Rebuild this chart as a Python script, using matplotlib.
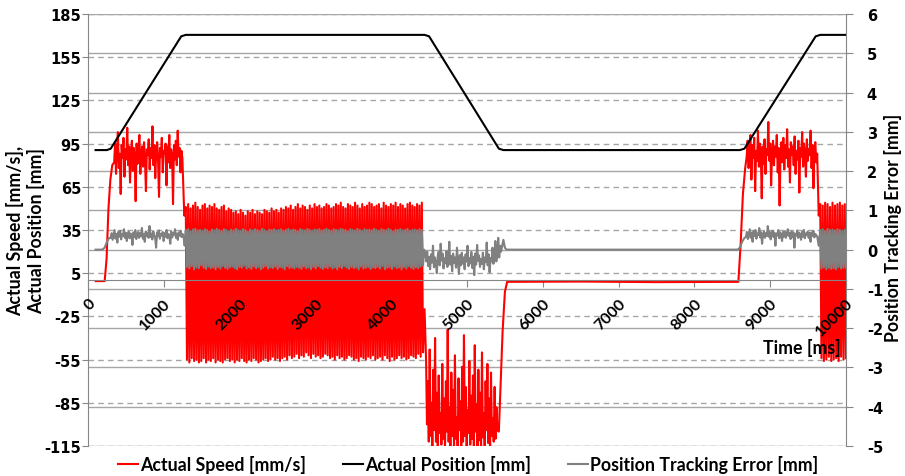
import numpy as np
import matplotlib
matplotlib.use("Agg")
import matplotlib.pyplot as plt
from matplotlib.lines import Line2D

# ---------------- data ----------------
# actual position [mm], left axis
pos_t = [100, 250, 300, 1230, 1290, 4440, 4500, 5420, 5480, 8600, 8660, 9600, 9660, 10000]
pos_v = [90.5, 90.5, 91.5, 169.5, 170.5, 170.5, 169.5, 91.5, 90.5, 90.5, 91.5, 169.5, 170.5, 170.5]

# actual speed [mm/s], left axis
spd_start_t = [100, 220, 245, 270, 295, 320]
spd_start_v = [-0.5, -0.5, 15, 50, 70, 80]
spd_acc1 = [82, 95, 74, 90, 103, 78, 88, 60, 94, 85, 99, 72, 91, 84, 106, 80, 93, 68, 89, 97,
            76, 92, 86, 55, 95, 81, 90, 101, 74, 88, 93, 79, 96, 84, 62, 91, 87, 98, 77, 92,
            85, 107, 80, 94, 71, 89, 96, 83, 58, 92, 86, 99, 75, 90, 88, 95, 66, 93, 82, 101,
            78, 91, 87, 53, 94, 84, 97, 80, 104, 86, 92, 75, 90, 85]
# peaks of the dither while the axis holds 170 mm
spd_hold_hi = [51, 53, 50, 52, 54, 51, 49, 52, 53, 50, 52, 51, 53, 50, 49, 51, 52, 48, 50, 49,
               47, 48, 46, 49, 47, 45, 48, 47, 49, 46, 48, 47, 46, 49, 48, 47, 50, 48, 49, 47,
               50, 49, 51, 50, 52, 49, 51, 53, 50, 52, 51, 49, 52, 50, 53, 51, 52, 50, 51, 53,
               52, 50, 51, 53, 52, 54, 51, 50, 53, 52, 51, 54, 52, 50, 53, 51, 52, 54, 53, 51,
               52, 53, 50, 54, 52, 51, 53, 52, 54, 51, 53, 52, 50, 53, 54, 52, 51, 53, 52, 54]
spd_hold_lo = [-55, -57, -54, -56, -55, -57, -56, -54, -57, -55, -56, -54, -57, -55, -56, -57,
               -55, -54, -56, -55, -57, -55, -56, -54, -56, -57, -55, -56, -54, -55, -57, -56,
               -55, -54, -56, -55, -53, -55, -54, -56, -54, -53, -55, -52, -54, -53, -51, -54,
               -52, -53, -50, -52, -54, -51, -53, -52, -54, -53, -51, -52, -54, -53, -55, -52,
               -54, -53, -55, -54, -52, -53, -55, -54, -56, -53, -54, -55, -53, -54, -52, -55,
               -54, -53, -55, -52, -54, -56, -53, -55, -54, -52, -54, -53, -55, -54, -52, -53,
               -54, -51, -53, -50]
spd_dec = [-55, -100, -70, -112, -48, -108, -85, -116, -62, -104, -40, -112, -78, -118, -66,
           -106, -92, -114, -58, -110, -82, -117, -70, -105, -34, -112, -88, -118, -64, -108,
           -76, -115, -52, -110, -95, -117, -68, -104, -84, -116, -60, -112, -38, -108, -74,
           -118, -90, -106, -56, -114, -80, -110, -66, -117, -45, -105, -86, -115, -62, -111,
           -78, -118, -50, -109, -92, -116, -70, -104, -58, -113, -82, -117, -64, -108, -96,
           -112, -74, -110, -88, -104]
spd_mid_t = [5420, 5445, 5470, 5500, 5530, 6500, 7500, 8580, 8610, 8640, 8670]
spd_mid_v = [-105, -70, -35, -8, -1, -0.8, -1.2, -1, 25, 60, 78]
spd_acc2 = [86, 97, 78, 92, 101, 70, 94, 85, 99, 62, 90, 83, 104, 79, 95, 88, 57, 93, 81, 98,
            74, 91, 87, 110, 83, 95, 66, 89, 97, 80, 93, 86, 101, 75, 92, 52, 88, 96, 82, 99,
            77, 94, 85, 105, 79, 91, 68, 96, 87, 93, 80, 100, 74, 90, 84, 97, 61, 92, 86, 103,
            79, 95, 88, 72, 98, 83, 91, 87, 104, 78, 94, 64, 89, 96, 82, 88]
spd_end_hi = [53, 52, 54, 53, 51, 54, 52, 53, 54, 52, 53]
spd_end_lo = [-54, -56, -55, -53, -56, -55, -54, -56, -53, -55, -54]

# position tracking error [mm], right axis
err_start_t = [100, 190, 220, 250, 280]
err_start_v = [0, 0, 0.05, 0.2, 0.3]
err_acc1 = [0.3, 0.42, 0.25, 0.38, 0.5, 0.28, 0.4, 0.18, 0.45, 0.33, 0.48, 0.26, 0.4, 0.35,
            0.52, 0.3, 0.43, 0.22, 0.38, 0.46, 0.29, 0.41, 0.36, 0.12, 0.44, 0.32, 0.5, 0.27,
            0.39, 0.45, 0.3, 0.42, 0.34, 0.55, 0.28, 0.4, 0.2, 0.46, 0.35, 0.43, 0.3, 0.6, 0.32,
            0.41, 0.26, 0.47, 0.37, 0.3, 0.05, 0.44, 0.34, 0.49, 0.28, 0.4, 0.36, 0.45, 0.22,
            0.42, 0.33, 0.5, 0.29, 0.4, 0.35, 0.15, 0.46, 0.31, 0.43, 0.38, 0.52, 0.3, 0.41,
            0.25, 0.44, 0.36, 0.48, 0.32, 0.4, 0.35]
err_hold_hi = [0.5, 0.52, 0.47, 0.51, 0.53, 0.49, 0.5, 0.48, 0.52, 0.5, 0.46, 0.51, 0.49, 0.53,
               0.5, 0.48, 0.52, 0.5, 0.47, 0.51, 0.49, 0.53, 0.5, 0.48, 0.52, 0.5, 0.46, 0.51,
               0.49, 0.52, 0.5, 0.48, 0.53, 0.5, 0.47, 0.51, 0.5, 0.52, 0.49, 0.5, 0.52, 0.48,
               0.5, 0.53, 0.49, 0.51, 0.5, 0.47, 0.52, 0.5, 0.49, 0.53, 0.5, 0.48, 0.51, 0.5,
               0.52, 0.49, 0.5, 0.53, 0.5, 0.48, 0.52, 0.5, 0.49, 0.53, 0.51, 0.5, 0.47, 0.52,
               0.5, 0.49, 0.53, 0.5, 0.48, 0.52, 0.5, 0.51, 0.49, 0.53, 0.5, 0.48, 0.52, 0.5,
               0.49, 0.53, 0.5, 0.47, 0.51, 0.5, 0.52, 0.49, 0.5, 0.53, 0.48, 0.5, 0.51, 0.49,
               0.52, 0.5]
err_hold_lo = [-0.44, -0.48, -0.42, -0.5, -0.45, -0.47, -0.4, -0.46, -0.49, -0.43, -0.47, -0.45,
               -0.5, -0.44, -0.48, -0.42, -0.46, -0.49, -0.45, -0.43, -0.47, -0.5, -0.44, -0.46,
               -0.41, -0.48, -0.45, -0.49, -0.43, -0.47, -0.44, -0.5, -0.46, -0.42, -0.48, -0.45,
               -0.47, -0.43, -0.49, -0.44, -0.46, -0.5, -0.42, -0.47, -0.45, -0.48, -0.44, -0.46,
               -0.49, -0.43, -0.47, -0.45, -0.5, -0.44, -0.48, -0.42, -0.46, -0.49, -0.45, -0.47,
               -0.43, -0.48, -0.45, -0.5, -0.44, -0.47, -0.42, -0.46, -0.49, -0.44, -0.47, -0.45,
               -0.5, -0.43, -0.48, -0.46, -0.44, -0.49, -0.45, -0.47, -0.44, -0.48, -0.42, -0.5,
               -0.46, -0.45, -0.49, -0.43, -0.47, -0.45, -0.5, -0.44, -0.48, -0.42, -0.46, -0.49,
               -0.45, -0.47, -0.43, -0.4]
err_dec = [-0.1, -0.3, -0.05, -0.42, -0.18, -0.5, -0.12, -0.33, 0.1, -0.45, -0.2, -0.36, -0.6,
           -0.15, -0.05, -0.4, 0.15, -0.28, -0.1, -0.48, -0.22, -0.35, -0.04, -0.44, -0.26, 0.2,
           -0.38, -0.16, -0.55, -0.1, -0.34, -0.2, -0.46, 0.05, -0.3, -0.62, -0.14, -0.4, -0.08,
           -0.36, -0.2, -0.5, -0.12, -0.3, 0.1, -0.42, -0.22, -0.35, -0.06, -0.47, -0.18, -0.65,
           -0.1, -0.38, 0.12, -0.28, -0.15, -0.44, -0.24, -0.36, -0.08, -0.5, -0.2, -0.32, 0.18,
           -0.4, -0.12, -0.58, -0.22, -0.3, 0.05, -0.36, -0.16, 0.22, -0.3, -0.1, 0.3, -0.2, 0.1,
           -0.05]
err_mid_t = [5480, 5500, 5520, 8570, 8600, 8630, 8660]
err_mid_v = [0.25, 0.05, 0.0, 0.0, 0.05, 0.2, 0.3]
err_acc2 = [0.32, 0.45, 0.27, 0.4, 0.52, 0.3, 0.43, 0.2, 0.47, 0.35, 0.5, 0.28, 0.41, 0.37, 0.55,
            0.31, 0.44, 0.15, 0.39, 0.46, 0.3, 0.42, 0.35, 0.6, 0.33, 0.45, 0.26, 0.4, 0.48, 0.32,
            0.43, 0.1, 0.41, 0.36, 0.5, 0.29, 0.44, 0.38, 0.22, 0.45, 0.33, 0.47, 0.3, 0.4, 0.52,
            0.35, 0.42, 0.27, 0.46, 0.32, 0.44, 0.05, 0.4, 0.36, 0.49, 0.3, 0.43, 0.38, 0.25,
            0.45, 0.33, 0.5, 0.29, 0.41, 0.37, 0.46, 0.3, 0.43, 0.2, 0.44, 0.35, 0.48, 0.31, 0.4,
            0.36, 0.34]
err_end_hi = [0.5, 0.52, 0.48, 0.53, 0.5, 0.51, 0.49, 0.52, 0.5, 0.48, 0.51]
err_end_lo = [-0.48, -0.45, -0.5, -0.46, -0.49, -0.47, -0.5, -0.44, -0.48, -0.46, -0.45]

left_ticks = list(range(-115, 186, 30))
right_ticks = list(range(-5, 7))
x_ticks = list(range(0, 10001, 1000))


def span(t0, t1, vals):
    return np.linspace(t0, t1, len(vals)), np.asarray(vals, dtype=float)


def pts(ts, vs):
    return np.asarray(ts, dtype=float), np.asarray(vs, dtype=float)


def zig(hi, lo):
    return np.column_stack([hi, lo]).ravel()


def join(parts):
    return (np.concatenate([p[0] for p in parts]),
            np.concatenate([p[1] for p in parts]))


spd_t, spd_v = join([
    pts(spd_start_t, spd_start_v),
    span(345, 1245, spd_acc1),
    pts([1270], [45]),
    span(1290, 4420, zig(spd_hold_hi, spd_hold_lo)),
    pts([4440], [-20]),
    span(4460, 5400, spd_dec),
    pts(spd_mid_t, spd_mid_v),
    span(8690, 9620, spd_acc2),
    pts([9640], [45]),
    span(9660, 10000, zig(spd_end_hi, spd_end_lo)),
])

err_t, err_v = join([
    pts(err_start_t, err_start_v),
    span(300, 1260, err_acc1),
    pts([1275], [0.1]),
    span(1290, 4420, zig(err_hold_hi, err_hold_lo)),
    pts([4435], [0.0]),
    span(4450, 5450, err_dec),
    pts(err_mid_t, err_mid_v),
    span(8680, 9620, err_acc2),
    pts([9640], [0.1]),
    span(9660, 10000, zig(err_end_hi, err_end_lo)),
])

# ---------------- figure ----------------
plt.rcParams["font.family"] = ["Lato", "DejaVu Sans"]
plt.rcParams["font.weight"] = "bold"
plt.rcParams["axes.unicode_minus"] = False

fig = plt.figure(figsize=(9.05, 4.77), dpi=100)
rect = [88 / 905, 1 - 447 / 477, (846 - 88) / 905, (447 - 15) / 477]

grid_col = "#a6a6a6"
spine_col = "#868686"
tick_font = {"family": "DejaVu Sans", "weight": "bold", "size": 10.5}


def bare(a):
    a.patch.set_visible(False)
    for s in a.spines.values():
        s.set_visible(False)
    a.tick_params(left=False, bottom=False, labelleft=False, labelbottom=False)


# solid grid of the right axis
ax_gr = fig.add_axes(rect, zorder=0)
ax_gr.set_xlim(0, 10000)
ax_gr.set_ylim(-5, 6)
ax_gr.set_yticks(right_ticks)
ax_gr.set_xticks([])
ax_gr.grid(True, axis="y", color=grid_col, linewidth=1.0)
bare(ax_gr)
ax_gr.patch.set_visible(True)
ax_gr.patch.set_facecolor("white")

# dashed grid of the left axis
ax_gl = fig.add_axes(rect, zorder=0.5)
ax_gl.set_xlim(0, 10000)
ax_gl.set_ylim(-115, 185)
ax_gl.set_yticks(left_ticks)
ax_gl.set_xticks([])
ax_gl.grid(True, axis="y", color=grid_col, linewidth=1.0, linestyle=(0, (4, 3)))
bare(ax_gl)

# speed and position
ax = fig.add_axes(rect, zorder=1)
ax.patch.set_visible(False)
ax.set_xlim(0, 10000)
ax.set_ylim(-115, 185)
ax.set_yticks(left_ticks)
ax.set_xticks(x_ticks)
ax.spines["top"].set_visible(False)
ax.spines["right"].set_visible(False)
ax.spines["left"].set_color(spine_col)
ax.spines["bottom"].set_color(spine_col)
ax.spines["bottom"].set_position(("data", 0))
ax.tick_params(axis="y", direction="out", length=4, color=spine_col, pad=1)
ax.tick_params(axis="x", direction="out", length=5, color=spine_col, labelbottom=False)
ax.set_yticklabels([str(v) for v in left_ticks], fontdict=tick_font)

ax.plot(spd_t, spd_v, color="#ff0000", linewidth=1.5)
ax.plot(pos_t, pos_v, color="black", linewidth=1.5)

# tracking error on the right axis
ax2 = ax.twinx()
ax2.set_zorder(2)
ax2.patch.set_visible(False)
ax2.set_ylim(-5, 6)
ax2.set_yticks(right_ticks)
for side in ["top", "left", "bottom"]:
    ax2.spines[side].set_visible(False)
ax2.spines["right"].set_color(spine_col)
ax2.tick_params(axis="y", direction="out", length=5, color=spine_col, pad=10)
ax2.set_yticklabels([str(v) for v in right_ticks], fontdict=tick_font)
ax2.plot(err_t, err_v, color="#808080", linewidth=1.5)

# time tick labels, drawn above the data as in the reference
ax_lab = fig.add_axes(rect, zorder=3)
ax_lab.patch.set_visible(False)
ax_lab.set_xlim(0, 10000)
ax_lab.set_ylim(-115, 185)
for s in ax_lab.spines.values():
    s.set_visible(False)
ax_lab.spines["bottom"].set_position(("data", 0))
ax_lab.set_yticks([])
ax_lab.set_xticks(x_ticks)
ax_lab.tick_params(axis="x", length=0, pad=11)
plt.setp(ax_lab.get_xticklabels(), rotation=45, ha="right", rotation_mode="anchor",
         fontweight="bold", fontsize=11.5)

# labels
lab_size = 12.8
fig.text(26 / 905, 1 - 231 / 477, "Actual Speed [mm/s],\nActual Position [mm]",
         rotation=90, ha="center", va="center", multialignment="center",
         fontsize=lab_size, fontweight="bold", linespacing=1.2)
fig.text(893 / 905, 1 - 228 / 477, "Position Tracking Error [mm]", rotation=90,
         ha="center", va="center", fontsize=lab_size, fontweight="bold")
fig.text(841 / 905, 1 - 348 / 477, "Time [ms]", ha="right", va="center",
         fontsize=lab_size, fontweight="bold", zorder=5)

handles = [Line2D([], [], color="#ff0000", linewidth=1.5),
           Line2D([], [], color="black", linewidth=1.5),
           Line2D([], [], color="#808080", linewidth=1.5)]
fig.legend(handles, ["Actual Speed [mm/s]", "Actual Position [mm]",
                     "Position Tracking Error [mm]"],
           loc="center", bbox_to_anchor=(468 / 905, 1 - 465 / 477), ncol=3,
           frameon=False, fontsize=lab_size, handlelength=1.1, handletextpad=0.12,
           columnspacing=2.1, borderpad=0, borderaxespad=0)

fig.savefig("out.png", dpi=100)
